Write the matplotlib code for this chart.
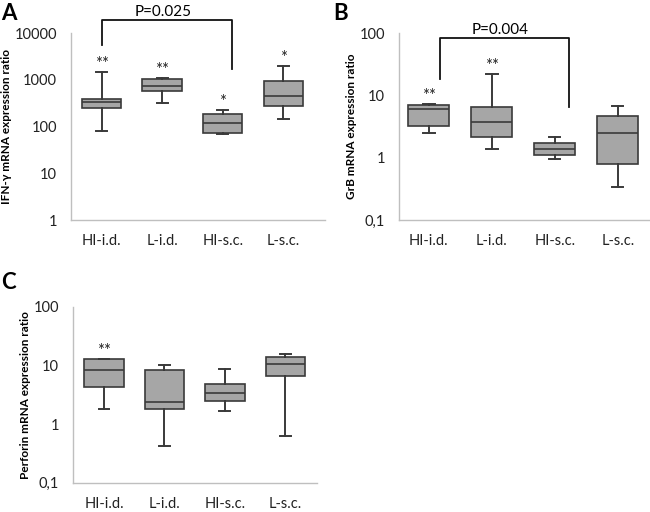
import matplotlib
matplotlib.use('Agg')
import matplotlib.pyplot as plt
import numpy as np

plt.rcParams['font.family'] = ['Lato', 'DejaVu Sans']

groups = ['HI-i.d.', 'L-i.d.', 'HI-s.c.', 'L-s.c.']

# five-number summaries: whisker low, Q1, median, Q3, whisker high
ifn_low = [79, 317, 70, 147]
ifn_q1 = [248, 590, 73, 273]
ifn_med = [333, 754, 121, 462]
ifn_q3 = [392, 1048, 182, 964]
ifn_high = [1480, 1100, 228, 1950]
ifn_stars = ['**', '**', '*', '*']

grb_low = [2.53, 1.37, 0.955, 0.34]
grb_q1 = [3.28, 2.13, 1.09, 0.78]
grb_med = [6.0, 3.7, 1.37, 2.53]
grb_q3 = [7.05, 6.6, 1.75, 4.75]
grb_high = [7.2, 22.2, 2.18, 6.8]
grb_stars = ['**', '**', '', '']

prf_low = [1.78, 0.42, 1.67, 0.63]
prf_q1 = [4.3, 1.78, 2.5, 6.6]
prf_med = [8.2, 2.34, 3.33, 10.4]
prf_q3 = [12.8, 8.2, 4.8, 13.9]
prf_high = [12.8, 10.0, 8.8, 15.4]
prf_stars = ['**', '', '', '']

BOX = '#a6a6a6'
EDGE = '#3a3a3a'
SPINE = '#bfbfbf'


def comma(v, pos):
    if v < 1:
        return ('%g' % v).replace('.', ',')
    return '%d' % v


def draw_panel(ax, low, q1, med, q3, high, stars, ylim, xlim, ylabel):
    stats = []
    for i in range(4):
        stats.append({'whislo': low[i], 'q1': q1[i], 'med': med[i], 'q3': q3[i],
                      'whishi': high[i], 'fliers': []})
    ax.bxp(stats, positions=[1, 2, 3, 4], widths=0.65, patch_artist=True,
           showfliers=False,
           boxprops=dict(facecolor=BOX, edgecolor=EDGE, linewidth=1.2),
           medianprops=dict(color=EDGE, linewidth=1.2),
           whiskerprops=dict(color=EDGE, linewidth=1.4),
           capprops=dict(color=EDGE, linewidth=1.4), capwidths=0.18)
    ax.set_yscale('log')
    ax.set_ylim(*ylim)
    ax.set_xlim(*xlim)
    ax.yaxis.set_major_formatter(matplotlib.ticker.FuncFormatter(comma))
    ax.yaxis.set_minor_locator(matplotlib.ticker.NullLocator())
    ax.set_xticks([1, 2, 3, 4])
    ax.set_xticklabels(groups)
    ax.tick_params(length=0, labelsize=10.5, colors='#222222')
    ax.tick_params(axis='y', pad=10)
    ax.tick_params(axis='x', pad=10)
    for s in ['top', 'right']:
        ax.spines[s].set_visible(False)
    for s in ['left', 'bottom']:
        ax.spines[s].set_color(SPINE)
        ax.spines[s].set_linewidth(1.0)
    ax.set_ylabel(ylabel, fontsize=8.5, fontweight='bold', labelpad=2)
    for i, st in enumerate(stars):
        if st:
            ax.annotate(st, xy=(i + 1, high[i]), xytext=(0, 0), textcoords='offset points',
                        ha='center', va='bottom', fontsize=12, color='#222222')


fig = plt.figure(figsize=(6.5, 5.12), dpi=100)

axA = fig.add_axes([0.1092, 0.5703, 0.391, 0.365])
draw_panel(axA, ifn_low, ifn_q1, ifn_med, ifn_q3, ifn_high, ifn_stars,
           (1, 10000), (0.496, 4.69), 'IFN-\u03b3 mRNA expression ratio')
axA.plot([1, 1, 3.15, 3.15], [5650, 18700, 18700, 1740], color='#111111', lw=1.3, clip_on=False)
axA.text(2.02, 27700, 'P=0.025', ha='center', va='center', fontsize=11)

axB = fig.add_axes([0.6138, 0.5703, 0.386, 0.365])
draw_panel(axB, grb_low, grb_q1, grb_med, grb_q3, grb_high, grb_stars,
           (0.1, 100), (0.524, 4.51), 'GrB mRNA expression ratio')
axB.plot([1.17, 1.17, 3.22, 3.22], [18.4, 83, 83, 6.5], color='#111111', lw=1.3, clip_on=False)
axB.text(2.13, 113, 'P=0.004', ha='center', va='center', fontsize=11)

axC = fig.add_axes([0.1123, 0.0572, 0.375, 0.3438])
draw_panel(axC, prf_low, prf_q1, prf_med, prf_q3, prf_high, prf_stars,
           (0.1, 100), (0.488, 4.52), 'Perforin mRNA expression ratio')

fig.text(0.002, 0.995, 'A', fontsize=16, fontweight='bold', va='top', ha='left')
fig.text(0.512, 0.995, 'B', fontsize=16, fontweight='bold', va='top', ha='left')
fig.text(0.002, 0.468, 'C', fontsize=16, fontweight='bold', va='top', ha='left')

fig.savefig('out.png', dpi=100)
